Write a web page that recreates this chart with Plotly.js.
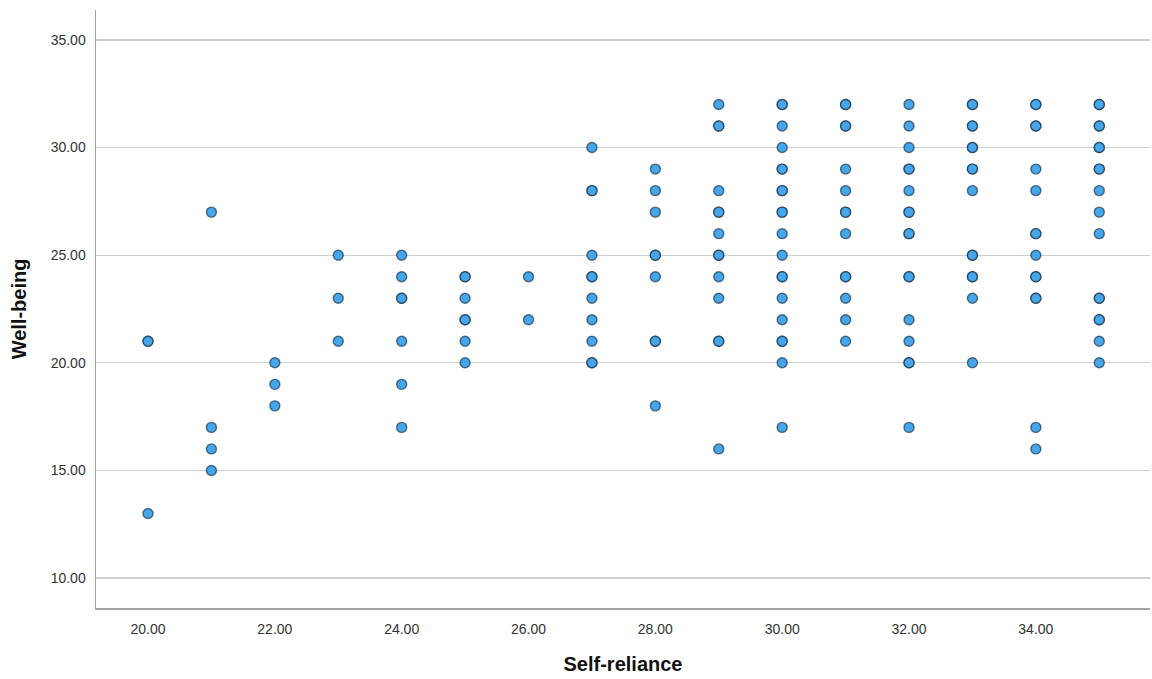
<!DOCTYPE html>
<html>
<head>
<meta charset="utf-8">
<script src="https://cdn.plot.ly/plotly-3.0.1.min.js"></script>
<style>html,body{margin:0;padding:0;background:#fff;}#chart{width:1152px;height:679px;}</style>
</head>
<body>
<div id="chart"></div>
<script>
// Well-being values observed at each Self-reliance level (repeats = overlapping cases)
const wb20 = [21, 21, 13];
const wb21 = [27, 17, 16, 15];
const wb22 = [20, 19, 18];
const wb23 = [25, 23, 21];
const wb24 = [25, 24, 23, 23, 21, 19, 17];
const wb25 = [24, 24, 23, 22, 22, 21, 20];
const wb26 = [24, 22];
const wb27 = [30, 28, 28, 25, 24, 24, 23, 22, 21, 20, 20];
const wb28 = [29, 28, 27, 25, 25, 24, 21, 21, 18];
const wb29 = [32, 31, 31, 28, 27, 27, 26, 25, 25, 24, 23, 21, 21, 16];
const wb30 = [32, 32, 31, 30, 29, 29, 28, 28, 27, 27, 26, 25, 24, 24, 23, 22, 21, 21, 20, 17];
const wb31 = [32, 32, 31, 31, 29, 28, 27, 27, 26, 24, 24, 23, 22, 21];
const wb32 = [32, 31, 30, 29, 29, 28, 27, 27, 26, 26, 24, 24, 22, 21, 20, 20, 17];
const wb33 = [32, 32, 31, 31, 30, 30, 29, 29, 28, 25, 25, 24, 24, 23, 20];
const wb34 = [32, 32, 31, 31, 29, 28, 26, 26, 25, 24, 24, 23, 23, 17, 16];
const wb35 = [32, 32, 31, 31, 30, 30, 29, 29, 28, 27, 26, 23, 23, 22, 22, 21, 20];
const selfRelianceLevels = [20, 21, 22, 23, 24, 25, 26, 27, 28, 29, 30, 31, 32, 33, 34, 35];
const wellBeingByLevel = [wb20, wb21, wb22, wb23, wb24, wb25, wb26, wb27, wb28, wb29, wb30, wb31, wb32, wb33, wb34, wb35];
const yTicks = [10, 15, 20, 25, 30, 35];
const xTicks = [20, 22, 24, 26, 28, 30, 32, 34];

const xs = [], ys = [];
selfRelianceLevels.forEach((lvl, i) => {
  wellBeingByLevel[i].forEach(v => { xs.push(lvl); ys.push(v); });
});

Plotly.newPlot('chart', [{
  type: 'scatter',
  mode: 'markers',
  x: xs,
  y: ys,
  marker: {
    size: 10,
    color: '#45a6ea',
    line: {color: 'rgba(20,45,70,0.66)', width: 1.4}
  },
  hoverinfo: 'x+y'
}], {
  width: 1152,
  height: 679,
  margin: {l: 96, r: 2, t: 10, b: 71},
  paper_bgcolor: '#ffffff',
  plot_bgcolor: '#ffffff',
  showlegend: false,
  font: {family: 'Liberation Sans, Arial, sans-serif', color: '#333333'},
  xaxis: {
    range: [19.18, 35.8],
    tickvals: xTicks,
    tickformat: '.2f',
    showgrid: false,
    zeroline: false,
    showline: true,
    linecolor: '#a3a3a3',
    linewidth: 1.5,
    ticks: '',
    ticklabelstandoff: 8,
    tickfont: {size: 14, color: '#333333'},
    title: {text: 'Self-reliance', font: {size: 20, color: '#111111', family: 'Liberation Sans, Arial, sans-serif', weight: 'bold'}, standoff: 20}
  },
  yaxis: {
    range: [8.61, 36.39],
    tickvals: yTicks,
    tickformat: '.2f',
    showgrid: true,
    gridcolor: '#cfcfcf',
    gridwidth: 1.3,
    zeroline: false,
    showline: true,
    linecolor: '#a3a3a3',
    linewidth: 1.5,
    ticks: '',
    ticklabelstandoff: 6,
    tickfont: {size: 14, color: '#333333'},
    title: {text: 'Well-being', font: {size: 20, color: '#111111', family: 'Liberation Sans, Arial, sans-serif', weight: 'bold'}, standoff: 18}
  }
}, {displayModeBar: false, staticPlot: true});
</script>
</body>
</html>
